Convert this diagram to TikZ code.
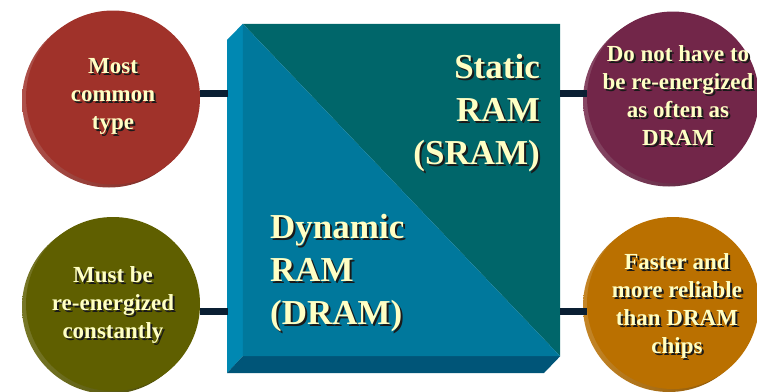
\documentclass[tikz,border=0pt]{standalone}
\usepackage{fontspec}
\setmainfont{Liberation Serif}
\definecolor{cream}{HTML}{FFFFC4}
\definecolor{shadowc}{HTML}{1A1A1A}
\definecolor{navy}{HTML}{0A1F33}
\definecolor{teal}{HTML}{00666A}
\definecolor{blue}{HTML}{00789C}
\definecolor{bevL}{HTML}{0088B2}
\definecolor{bevB}{HTML}{005578}
\definecolor{cred}{HTML}{A0322A}
\definecolor{cmaroon}{HTML}{722649}
\definecolor{colive}{HTML}{5F5F00}
\definecolor{corange}{HTML}{BA7000}
\tikzset{
  disc/.style={circle, minimum size=#1, inner sep=0, draw=none},
  conn/.style={draw=navy, line width=7pt},
  ctext/.style={font=\fontsize{23}{28}\selectfont\bfseries, text=cream, align=center, inner sep=0},
  btext/.style={font=\fontsize{35}{43}\selectfont\bfseries, text=cream, inner sep=0},
  shd/.style={text=shadowc, xshift=2pt, yshift=-2pt}
}
\newcommand\discat[4]{% name, center, radius, colour
  \shade[left color=#4!85!white, right color=#4!70!black] ([xshift=-4pt,yshift=-3pt]#2) circle[radius=#3];
  \node[disc=2*#3, fill=#4] (#1) at (#2) {};
}
\begin{document}
\begin{tikzpicture}[x=1pt,y=-1pt]
\useasboundingbox (0,0) rectangle (757,391);
% box
\node[rectangle, minimum width=317pt, minimum height=332pt, inner sep=0] (face) at (401.5,190) {};
\fill[bevL] (227,40) -- (face.north west) -- (face.south west) -- (227,373) -- cycle;
\fill[bevB] (227,373) -- (face.south west) -- (face.south east) -- (544,373) -- cycle;
\fill[teal] (face.north west) -- (face.north east) -- (face.south east) -- cycle;
\fill[blue] (face.north west) -- (face.south east) -- (face.south west) -- cycle;
% connector ends
\coordinate (l1) at (228,93);
\coordinate (l2) at (228,311);
\coordinate (r1) at (560,93);
\coordinate (r2) at (560,311);
% discs
\discat{c1}{113,97.5}{87pt}{cred}
\discat{c2}{673,97.5}{86pt}{cmaroon}
\discat{c3}{113,304}{87pt}{colive}
\discat{c4}{673,303}{86pt}{corange}
\draw[conn] (l1 -| c1.east) -- (l1);
\draw[conn] (l2 -| c3.east) -- (l2);
\draw[conn] (r1) -- (r1 -| c2.west);
\draw[conn] (r2) -- (r2 -| c4.west);
% box texts
\node[btext, shd, align=right, anchor=east] (ts) at (540,113) {Static\\RAM\\(SRAM)};
\node[btext, align=right, anchor=east] (t1) at (540,113) {Static\\RAM\\(SRAM)};
\node[btext, shd, align=left, anchor=west] (tds) at (270,273) {Dynamic\\RAM\\(DRAM)};
\node[btext, align=left, anchor=west] (t2) at (270,273) {Dynamic\\RAM\\(DRAM)};
% disc texts
\node[ctext, shd] (x1s) at (113,96) {Most\\common\\type};
\node[ctext] (x1) at (113,96) {Most\\common\\type};
\node[ctext, shd] (x3s) at (113,305) {Must be\\re-energized\\constantly};
\node[ctext] (x3) at (113,305) {Must be\\re-energized\\constantly};
\node[ctext, shd] (x2s) at (678,96) {Do not have to\\be re-energized\\as often as\\DRAM};
\node[ctext] (x2) at (678,96) {Do not have to\\be re-energized\\as often as\\DRAM};
\node[ctext, shd] (x4s) at (677,306) {Faster and\\more reliable\\than DRAM\\chips};
\node[ctext] (x4) at (677,306) {Faster and\\more reliable\\than DRAM\\chips};
\end{tikzpicture}
\end{document}
